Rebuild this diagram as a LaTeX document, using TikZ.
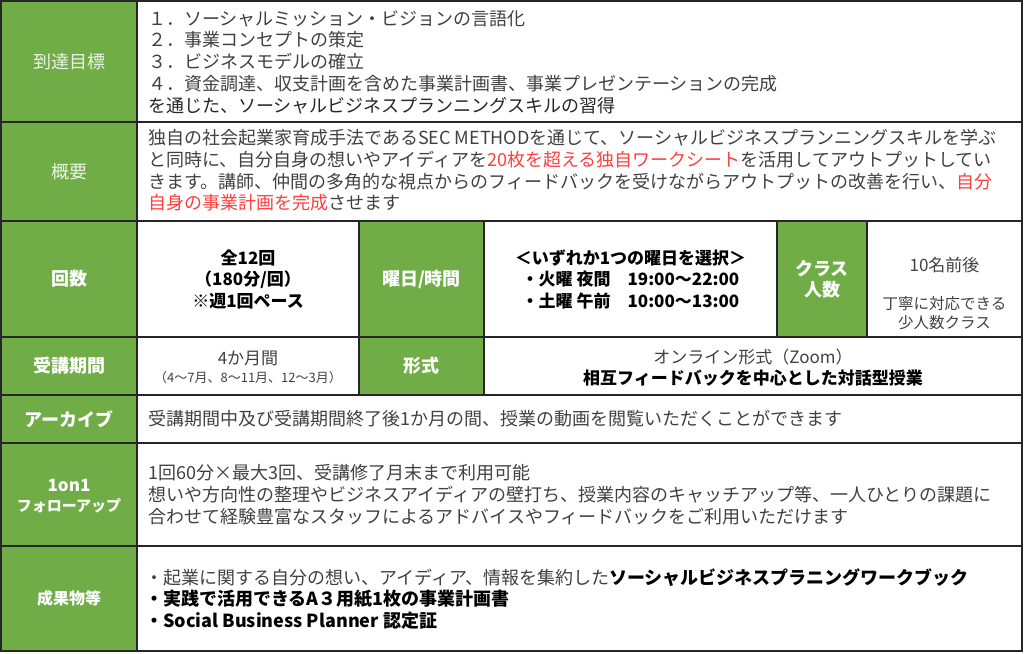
\documentclass[tikz,border=0pt]{standalone}
\usepackage{fontspec}
\setmainfont{Noto Sans CJK JP}
\definecolor{grn}{RGB}{112,173,71}
\definecolor{bd}{RGB}{38,38,38}
\definecolor{txt}{RGB}{64,64,64}
\definecolor{accred}{RGB}{255,62,62}
\definecolor{hdrlight}{RGB}{236,243,230}
\newcommand\strongtxt[1]{{\color{black}\bfseries #1}}
\newcommand\redtxt[1]{{\color{accred}#1}}
\begin{document}
\begin{tikzpicture}[x=1pt,y=-1pt,
  gridline/.style={draw=bd,line width=1.4pt},
  hdr/.style={text=white,font=\bfseries\fontsize{18}{21}\selectfont,align=center,inner sep=0pt},
  hdrlt/.style={text=hdrlight,font=\fontsize{18}{21}\selectfont,align=center,inner sep=0pt},
  body/.style={text=txt,font=\fontsize{18}{21.7}\selectfont,align=left,anchor=west,inner sep=0pt},
  bodyc/.style={text=txt,font=\fontsize{17}{21.5}\selectfont,align=center,inner sep=0pt},
  boldc/.style={text=black,font=\bfseries\fontsize{17}{21.5}\selectfont,align=center,inner sep=0pt}]
\useasboundingbox (0,0) rectangle (1024,653);
% green header cells
\fill[grn] (1,1) rectangle (137,651);
\fill[grn] (359,221) rectangle (484,395);
\fill[grn] (777,221) rectangle (867,337);
% grid
\draw[gridline] (1,1) rectangle (1022,651);
\foreach \yy in {122,221,337,395,443,546} \draw[gridline] (1,\yy) -- (1022,\yy);
\draw[gridline] (137,1) -- (137,651);
\foreach \xx in {359,484,777,867} \draw[gridline] (\xx,221) -- (\xx,337);
\foreach \xx in {359,484} \draw[gridline] (\xx,337) -- (\xx,395);
% header texts
\node[hdrlt] (h1) at (69,61.5) {到達目標};
\node[hdrlt] (h2) at (69,171.5) {概要};
\node[hdr] (h3) at (69,279) {回数};
\node[hdr] (h4) at (69,366) {受講期間};
\node[hdr] (h5) at (69,419) {アーカイブ};
\node[hdr] (h6) at (69,496) {{\fontsize{17}{18}\selectfont 1on1}\\[-1pt]{\fontsize{15}{18}\selectfont フォローアップ}};
\node[hdr,font=\bfseries\fontsize{16}{20}\selectfont] (h7) at (69,598) {成果物等};
\node[hdr] (h8) at (421.5,279) {曜日/時間};
\node[hdr] (h9) at (421.5,366) {形式};
\node[hdr] (h10) at (822,279) {クラス\\人数};
% body texts
\node[body] (b1) at (148,62) {１．ソーシャルミッション・ビジョンの言語化\\
２．事業コンセプトの策定\\
３．ビジネスモデルの確立\\
４．資金調達、収支計画を含めた事業計画書、事業プレゼンテーションの完成\\
{\color{black!85}を通じた、ソーシャルビジネスプランニングスキルの習得}};
\node[body] (b2) at (148,170.5) {独自の社会起業家育成手法であるSEC METHODを通じて、ソーシャルビジネスプランニングスキルを学ぶ\\
と同時に、自分自身の想いやアイディアを\redtxt{20枚を超える独自ワークシート}を活用してアウトプットしてい\\
きます。講師、仲間の多角的な視点からのフィードバックを受けながらアウトプットの改善を行い、\redtxt{自分}\\
\redtxt{自身の事業計画を完成}させます};
\node[boldc] (b3) at (248,279) {全12回\\（180分/回）\\※週1回ペース};
\node[boldc] (b4) at (630.5,279) {＜いずれか1つの曜日を選択＞\\・火曜 夜間\quad 19:00～22:00\\・土曜 午前\quad 10:00～13:00};
\node[bodyc] (b5) at (944.5,265) {10名前後};
\node[bodyc,font=\fontsize{15.5}{19}\selectfont] (b6) at (944.5,313) {丁寧に対応できる\\少人数クラス};
\node[bodyc] (b7) at (248,358) {4か月間};
\node[bodyc,font=\fontsize{13}{15}\selectfont] (b8) at (248,378) {（4～7月、8～11月、12～3月）};
\node[bodyc] (b9) at (753,357) {オンライン形式（Zoom）};
\node[boldc] (b10) at (753,378) {相互フィードバックを中心とした対話型授業};
\node[body] (b11) at (148,419) {受講期間中及び受講期間終了後1か月の間、授業の動画を閲覧いただくことができます};
\node[body] (b12) at (148,494.5) {1回60分×最大3回、受講修了月末まで利用可能\\
想いや方向性の整理やビジネスアイディアの壁打ち、授業内容のキャッチアップ等、一人ひとりの課題に\\
合わせて経験豊富なスタッフによるアドバイスやフィードバックをご利用いただけます};
\node[body] (b13) at (145,599) {・起業に関する自分の想い、アイディア、情報を集約した\strongtxt{ソーシャルビジネスプラニングワークブック}\\
\strongtxt{・実践で活用できるA３用紙1枚の事業計画書}\\
\strongtxt{・Social Business Planner 認定証}};
\end{tikzpicture}
\end{document}
